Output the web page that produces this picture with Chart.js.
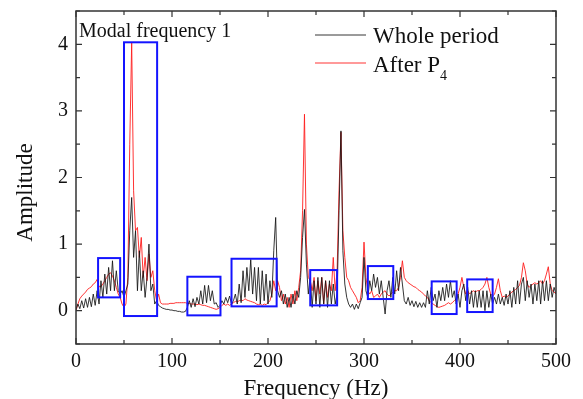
<!DOCTYPE html>
<html>
<head>
<meta charset="utf-8">
<script src="https://cdn.jsdelivr.net/npm/chart.js@4.4.0/dist/chart.umd.min.js"></script>
<style>
  body { margin: 0; background: #fff; }
</style>
</head>
<body>
<canvas id="c" width="583" height="399"></canvas>
<script>
// spectra sampled every 2 Hz, 0..500 Hz
var wholePeriod = [
  0.02, 0.1, 0.03, 0.15, 0.04, 0.18, 0.05, 0.2, 0.06, 0.25,
  0.08, 0.3, 0.1, 0.45, 0.2, 0.55, 0.25, 0.65, 0.3, 0.75,
  0.3, 0.6, 0.3, 0.25, 0.3, 0.2, 0.3, 0.4, 1.2, 1.7,
  0.8, 1.2, 0.3, 0.9, 0.3, 0.6, 0.2, 0.5, 1.0, 0.3,
  0.4, 0.1, 0.15, 0.08, 0.06, 0.04, 0.03, 0.02, 0.02, 0.01,
  0.01, 0.0, 0.0, -0.01, -0.01, -0.02, -0.02, -0.01, 0.05, 0.15,
  0.05, 0.18, 0.06, 0.2, 0.1, 0.3, 0.1, 0.38, 0.12, 0.38,
  0.15, 0.3, 0.1, 0.12, 0.05, 0.08, 0.15, 0.1, 0.2, 0.12,
  0.22, 0.1, 0.15, 0.25, 0.1, 0.4, 0.12, 0.6, 0.2, 0.65,
  0.3, 0.77, 0.25, 0.65, 0.15, 0.65, 0.1, 0.6, 0.15, 0.55,
  0.1, 0.45, 0.2, 0.9, 1.4, 0.3, 0.2, 0.3, 0.1, 0.25,
  0.05, 0.2, 0.05, 0.25, 0.1, 0.3, 0.2, 0.5, 1.1, 1.52,
  0.7, 0.25, 0.5, 0.05, 0.45, 0.1, 0.5, 0.05, 0.5, 0.1,
  0.45, 0.05, 0.45, 0.1, 0.4, 0.1, 0.25, 1.5, 2.7, 0.9,
  0.4, 0.2, 0.1, 0.05, 0.1, 0.02, 0.1, 0.03, 0.12, 0.2,
  0.8, 0.3, 0.2, 0.45, 0.3, 0.55, 0.35, 0.5, 0.25, 0.45,
  0.2, -0.05, 0.3, 0.45, 0.2, 0.5, 0.25, 0.6, 0.3, 0.65,
  0.4, 0.15, 0.1, 0.2, 0.08, 0.15, 0.06, 0.14, 0.05, 0.12,
  0.05, 0.12, 0.05, 0.3, 0.1, 0.35, 0.15, 0.25, 0.05, 0.3,
  0.15, 0.35, 0.15, 0.4, 0.2, 0.45, 0.2, 0.3, 0.1, 0.25,
  0.05, 0.3, 0.4, 0.15, 0.35, 0.1, 0.3, 0.05, 0.3, 0.05,
  0.3, 0.05, 0.3, 0.0, 0.3, 0.05, 0.25, 0.1, 0.2, 0.1,
  0.25, 0.1, 0.2, 0.08, 0.25, 0.1, 0.3, 0.05, 0.35, 0.1,
  0.45, 0.1, 0.4, 0.5, 0.15, 0.45, 0.2, 0.4, 0.1, 0.4,
  0.15, 0.45, 0.1, 0.45, 0.15, 0.45, 0.15, 0.4, 0.2, 0.35,
  0.25
];

var afterP4 = [
  0.0, 0.1, 0.18, 0.22, 0.25, 0.28, 0.32, 0.34, 0.36, 0.4,
  0.42, 0.47, 0.36, 0.36, 0.4, 0.45, 0.5, 0.55, 0.57, 0.52,
  0.45, 0.35, 0.25, 0.2, 0.1, 0.05, 0.1, 0.5, 2.5, 4.03,
  1.8, 1.2, 1.25, 0.8, 1.1, 0.5, 0.8, 0.45, 0.85, 0.5,
  0.6, 0.3, 0.15, 0.25, 0.12, 0.1, 0.1, 0.1, 0.1, 0.11,
  0.11, 0.11, 0.12, 0.12, 0.12, 0.12, 0.12, 0.12, 0.11, 0.11,
  0.1, 0.1, 0.1, 0.09, 0.1, 0.09, 0.08, 0.08, 0.07, 0.06,
  0.05, 0.04, 0.03, 0.02, 0.03, 0.05, 0.08, 0.1, 0.08, 0.1,
  0.08, 0.1, 0.12, 0.14, 0.13, 0.15, 0.16, 0.15, 0.18, 0.16,
  0.15, 0.14, 0.13, 0.12, 0.1, 0.09, 0.1, 0.08, 0.1, 0.09,
  0.12, 0.15, 0.25, 0.45, 0.3, 0.45, 0.35, 0.15, 0.25, 0.1,
  0.2, 0.05, 0.25, 0.1, 0.3, 0.15, 0.35, 0.6, 1.5, 2.95,
  1.0, 0.5, 0.45, 0.3, 0.5, 0.15, 0.45, 0.25, 0.5, 0.1,
  0.45, 0.2, 0.4, 0.3, 0.8, 0.3, 0.6, 1.8, 2.68, 1.2,
  0.8, 0.5, 0.45, 0.35, 0.3, 0.25, 0.2, 0.12, 0.15, 0.35,
  1.03, 0.5, 0.3, 0.25, 0.3, 0.2, 0.22, 0.25, 0.2, 0.25,
  0.28, 0.3, 0.25, 0.22, 0.25, 0.28, 0.3, 0.3, 0.35, 0.5,
  0.75, 0.5, 0.45, 0.42, 0.4, 0.38, 0.36, 0.35, 0.32, 0.3,
  0.28, 0.25, 0.22, 0.2, 0.15, 0.12, 0.1, 0.08, 0.06, 0.05,
  0.06, 0.07, 0.08, 0.1, 0.12, 0.1, 0.12, 0.15, 0.18, 0.25,
  0.35, 0.5, 0.35, 0.25, 0.3, 0.25, 0.28, 0.3, 0.28, 0.3,
  0.3, 0.32, 0.35, 0.4, 0.5, 0.35, 0.25, 0.22, 0.25, 0.35,
  0.48, 0.3, 0.2, 0.22, 0.2, 0.22, 0.25, 0.28, 0.3, 0.32,
  0.35, 0.38, 0.5, 0.72, 0.6, 0.4, 0.35, 0.38, 0.4, 0.42,
  0.4, 0.42, 0.45, 0.4, 0.45, 0.55, 0.66, 0.4, 0.3, 0.28,
  0.25
];

var freqStep = 2;
var xTicks = [0, 100, 200, 300, 400, 500];
var xMinor = [50, 150, 250, 350, 450];
var yTicks = [0, 1, 2, 3, 4];
var yMinor = [-0.5, 0.5, 1.5, 2.5, 3.5, 4.5];

// highlighted regions: [fromHz, toHz, low, high]
var boxes = [
  [23, 46, 0.2, 0.79],
  [50, 84.5, -0.08, 4.03],
  [116, 150.5, -0.07, 0.51],
  [162, 209, 0.065, 0.78],
  [244, 272, 0.08, 0.61],
  [304, 330.5, 0.175, 0.67],
  [370.5, 396.5, -0.05, 0.44],
  [407.5, 434, -0.02, 0.47]
];

var serif = '"Liberation Serif", "Times New Roman", serif';

function toPoints(values) {
  return values.map(function (v, i) { return { x: i * freqStep, y: v }; });
}

var decorations = {
  id: 'decorations',
  afterDatasetsDraw: function (chart) {
    var ctx = chart.ctx, a = chart.chartArea;
    var xs = chart.scales.x, ys = chart.scales.y;
    ctx.save();

    // blue boxes
    ctx.strokeStyle = '#1414ff';
    ctx.lineWidth = 2;
    boxes.forEach(function (b) {
      var x0 = xs.getPixelForValue(b[0]), x1 = xs.getPixelForValue(b[1]);
      var y0 = ys.getPixelForValue(b[3]), y1 = ys.getPixelForValue(b[2]);
      ctx.strokeRect(x0, y0, x1 - x0, y1 - y0);
    });

    // frame
    ctx.strokeStyle = '#333';
    ctx.lineWidth = 1.5;
    ctx.strokeRect(a.left, a.top, a.right - a.left, a.bottom - a.top);

    // inward ticks
    ctx.lineWidth = 1.2;
    ctx.beginPath();
    function xt(v, len) {
      var p = xs.getPixelForValue(v);
      ctx.moveTo(p, a.bottom); ctx.lineTo(p, a.bottom - len);
      ctx.moveTo(p, a.top); ctx.lineTo(p, a.top + len);
    }
    function yt(v, len) {
      var p = ys.getPixelForValue(v);
      ctx.moveTo(a.left, p); ctx.lineTo(a.left + len, p);
      ctx.moveTo(a.right, p); ctx.lineTo(a.right - len, p);
    }
    xTicks.forEach(function (v) { xt(v, 6); });
    xMinor.forEach(function (v) { xt(v, 4); });
    yTicks.forEach(function (v) { yt(v, 6); });
    yMinor.forEach(function (v) { yt(v, 4); });
    ctx.stroke();

    // label in the corner
    ctx.fillStyle = '#111';
    ctx.textBaseline = 'alphabetic';
    ctx.font = '20px ' + serif;
    ctx.fillText('Modal frequency 1', a.left + 3, a.top + 26);

    // legend
    var lx = a.right - 241;
    ctx.lineWidth = 1;
    ctx.strokeStyle = 'rgba(20,20,20,0.85)';
    ctx.beginPath(); ctx.moveTo(lx, a.top + 24); ctx.lineTo(lx + 51, a.top + 24); ctx.stroke();
    ctx.strokeStyle = 'rgba(255,30,30,0.9)';
    ctx.beginPath(); ctx.moveTo(lx, a.top + 52); ctx.lineTo(lx + 51, a.top + 52); ctx.stroke();
    ctx.font = '23px ' + serif;
    ctx.fillText('Whole period', lx + 58, a.top + 32);
    ctx.fillText('After P', lx + 58, a.top + 61);
    var w = ctx.measureText('After P').width;
    ctx.font = '14px ' + serif;
    ctx.fillText('4', lx + 58 + w, a.top + 69);

    // y axis title, sitting a little below the middle as in the source
    ctx.font = '23px ' + serif;
    ctx.textAlign = 'center';
    ctx.textBaseline = 'middle';
    ctx.translate(26, a.top + (a.bottom - a.top) * 0.545);
    ctx.rotate(-Math.PI / 2);
    ctx.fillText('Amplitude', 0, 0);

    ctx.restore();
  }
};

new Chart(document.getElementById('c'), {
  type: 'line',
  data: {
    datasets: [{
      label: 'Whole period',
      data: toPoints(wholePeriod),
      borderColor: 'rgba(20,20,20,0.85)',
      borderWidth: 1,
      pointRadius: 0,
      tension: 0
    }, {
      label: 'After P4',
      data: toPoints(afterP4),
      borderColor: 'rgba(255,30,30,0.9)',
      borderWidth: 1,
      pointRadius: 0,
      tension: 0
    }]
  },
  options: {
    responsive: false,
    devicePixelRatio: 1,
    animation: false,
    layout: {
      padding: { top: 11, right: 27, left: 0, bottom: 0 }
    },
    plugins: {
      legend: { display: false },
      tooltip: { enabled: false }
    },
    scales: {
      x: {
        type: 'linear',
        min: 0,
        max: 500,
        afterBuildTicks: function (s) { s.ticks = xTicks.map(function (v) { return { value: v }; }); },
        afterFit: function (s) { s.height = 55; s.paddingLeft = 0; s.paddingRight = 0; },
        grid: { display: false, drawTicks: false },
        border: { display: false },
        ticks: { color: '#111', padding: 6, font: { family: serif, size: 20 }, maxRotation: 0 },
        title: { display: true, text: 'Frequency (Hz)', color: '#111', font: { family: serif, size: 23, lineHeight: 0.9 }, padding: { top: 0, bottom: 0 } }
      },
      y: {
        min: -0.5,
        max: 4.5,
        afterBuildTicks: function (s) { s.ticks = yTicks.map(function (v) { return { value: v }; }); },
        afterFit: function (s) { s.width = 76; s.paddingTop = 0; s.paddingBottom = 0; },
        grid: { display: false, drawTicks: false },
        border: { display: false },
        ticks: { color: '#111', padding: 8, font: { family: serif, size: 20 } }
      }
    }
  },
  plugins: [decorations]
});
</script>
</body>
</html>
